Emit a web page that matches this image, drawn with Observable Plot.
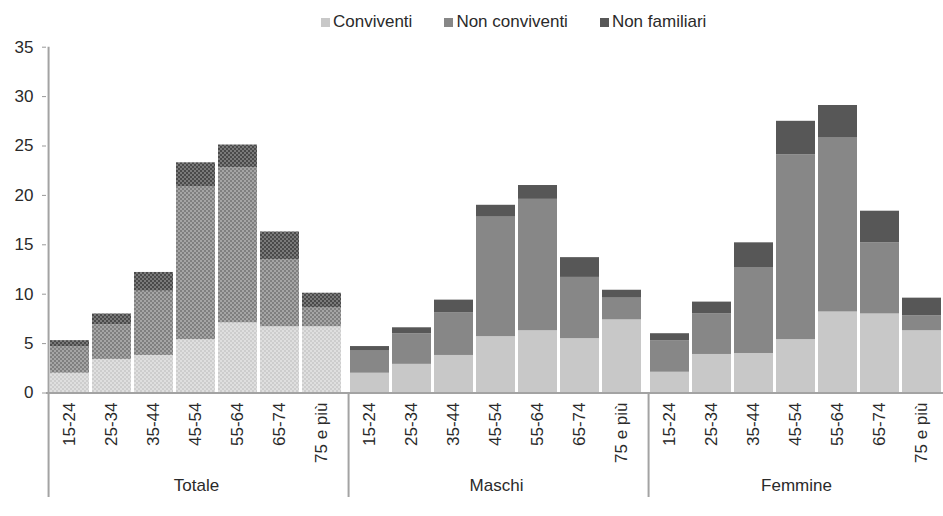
<!DOCTYPE html>
<html><head><meta charset="utf-8">
<script src="https://cdn.jsdelivr.net/npm/d3@7"></script>
<script src="https://cdn.jsdelivr.net/npm/@observablehq/plot@0.6"></script>
<style>
html,body{margin:0;padding:0;background:#fff;overflow:hidden;width:943px;height:516px}
#legend{position:relative;height:36px;font-family:'Liberation Sans',Arial,sans-serif;font-size:17px;color:#2a2a2a}
#legend .items{position:absolute;left:321px;top:13px;display:flex;gap:32px;line-height:18px;white-space:nowrap}
#legend .item{display:flex;align-items:center}
#legend .sw{width:9px;height:9px;margin-right:3px}
#chart svg{display:block}
</style></head><body>
<svg width="0" height="0" style="position:absolute">
  <defs>
    <pattern id="pt0" width="4" height="4" patternUnits="userSpaceOnUse">
      <rect width="4" height="4" fill="#cdcdcd"/><circle cx="1" cy="1" r="1" fill="#e6e6e6"/><circle cx="3" cy="3" r="1" fill="#e6e6e6"/>
    </pattern>
    <pattern id="pt1" width="4" height="4" patternUnits="userSpaceOnUse">
      <rect width="4" height="4" fill="#7f7f7f"/><circle cx="1" cy="1" r="1" fill="#b2b2b2"/><circle cx="3" cy="3" r="1" fill="#b2b2b2"/>
    </pattern>
    <pattern id="pt2" width="4" height="4" patternUnits="userSpaceOnUse">
      <rect width="4" height="4" fill="#4a4a4a"/><circle cx="1" cy="1" r="1" fill="#8a8a8a"/><circle cx="3" cy="3" r="1" fill="#8a8a8a"/>
    </pattern>
  </defs>
</svg>
<div id="legend"><div class="items"></div></div>
<div id="chart"></div>
<script>
const ages = ["15-24", "25-34", "35-44", "45-54", "55-64", "65-74", "75 e più"];
const groups = ["Totale", "Maschi", "Femmine"];
const categories = ["Conviventi", "Non conviventi", "Non familiari"];
const colors = ["#c8c8c8", "#878787", "#575757"];
const patterns = ["url(#pt0)", "url(#pt1)", "url(#pt2)"];
const yTicks = [0, 5, 10, 15, 20, 25, 30, 35];

const convTotale     = [2.0, 3.4, 3.8, 5.4, 7.1, 6.7, 6.7];
const nonConvTotale  = [2.7, 3.5, 6.5, 15.5, 15.7, 6.8, 1.9];
const nonFamTotale   = [0.6, 1.1, 1.9, 2.4, 2.3, 2.8, 1.5];
const convMaschi     = [2.0, 2.9, 3.8, 5.7, 6.3, 5.5, 7.4];
const nonConvMaschi  = [2.3, 3.1, 4.3, 12.1, 13.3, 6.2, 2.2];
const nonFamMaschi   = [0.4, 0.6, 1.3, 1.2, 1.4, 2.0, 0.8];
const convFemmine    = [2.1, 3.9, 4.0, 5.4, 8.2, 8.0, 6.3];
const nonConvFemmine = [3.2, 4.1, 8.7, 18.7, 17.6, 7.2, 1.5];
const nonFamFemmine  = [0.7, 1.2, 2.5, 3.4, 3.3, 3.2, 1.8];

const seriesByGroup = [
  [convTotale, nonConvTotale, nonFamTotale],
  [convMaschi, nonConvMaschi, nonFamMaschi],
  [convFemmine, nonConvFemmine, nonFamFemmine]
];

const rows = [];
groups.forEach((g, gi) => {
  ages.forEach((a, ai) => {
    categories.forEach((c, ci) => {
      rows.push({group: g, age: a, category: c, value: seriesByGroup[gi][ci][ai],
                 key: (g === "Totale" ? "T:" : "") + c});
    });
  });
});

// legend
const items = d3.select("#legend .items");
categories.forEach((c, i) => {
  const it = items.append("div").attr("class", "item");
  it.append("div").attr("class", "sw").style("background", colors[i]);
  it.append("span").text(c);
});

const font = "'Liberation Sans', Arial, sans-serif";
const facetW = 300;
const half = facetW / ages.length / 2;
const gridColor = "#a3a3a3";
const textColor = "#2a2a2a";

const plot = Plot.plot({
  width: 943,
  height: 480,
  marginLeft: 46,
  marginRight: -3,
  marginTop: 10.7,
  marginBottom: 123.5,
  style: {fontFamily: font, fontSize: "17px", color: textColor, background: "transparent"},
  fx: {domain: groups, padding: 0, axis: null},
  x: {domain: ages, paddingInner: 0.067, paddingOuter: 0.0335},
  y: {domain: [0, 35]},
  color: {domain: categories.concat(categories.map(c => "T:" + c)), range: colors.concat(patterns)},
  marks: [
    Plot.barY(rows, {fx: "group", x: "age", y: "value", fill: "key"}),
    Plot.ruleY([0], {stroke: gridColor, strokeWidth: 2}),
    Plot.ruleX(["Totale"], {fx: d => d, x: () => ages[0], dx: -half, stroke: gridColor, strokeWidth: 2, insetBottom: -104.5}),
    Plot.ruleX(["Maschi", "Femmine"], {fx: d => d, x: () => ages[0], dx: -half, stroke: gridColor, strokeWidth: 2, insetTop: 345.8, insetBottom: -104.5}),
    Plot.axisY({ticks: yTicks, tickSize: 4, tickPadding: 9, stroke: "#999", fill: textColor, fontSize: 17, label: null}),
    Plot.axisX({tickRotate: -90, tickSize: 0, tickPadding: 9.5, fill: textColor, fontSize: 17, label: null}),
    Plot.text(groups, {fx: d => d, text: d => d, frameAnchor: "bottom", lineAnchor: "middle", dy: 93, fill: textColor, fontSize: 17})
  ]
});
document.getElementById("chart").appendChild(plot);
</script>
</body></html>
